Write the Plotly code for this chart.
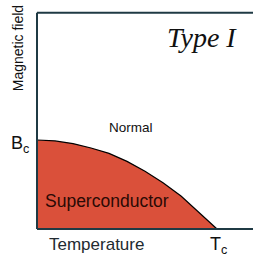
import plotly.graph_objects as go

# Boundary curve (T/Tc, B/Bc)
temperature = [0.0, 0.1, 0.2, 0.3, 0.4, 0.5, 0.6, 0.7, 0.8, 0.9, 1.0]
critical_field = [1.0, 0.99, 0.96, 0.91, 0.85, 0.76, 0.65, 0.52, 0.37, 0.19, 0.0]

x_max = 1.2
y_top = 2.43

fig = go.Figure()
fig.add_trace(go.Scatter(
    x=temperature, y=critical_field, mode="lines",
    fill="tozeroy", fillcolor="rgb(218,80,58)",
    line=dict(color="black", width=1.2), hoverinfo="skip"))

axis_col = "#1f3a44"
fig.add_shape(type="line", x0=0, x1=0, y0=0, y1=y_top, line=dict(color=axis_col, width=2))
fig.add_shape(type="line", x0=0, x1=x_max, y0=y_top, y1=y_top, line=dict(color=axis_col, width=2))
fig.add_shape(type="line", x0=0, x1=x_max, y0=0, y1=0, line=dict(color=axis_col, width=2))

sans = "Liberation Sans, Arial"
ann = [
    dict(x=-0.106, y=2.03, text="Magnetic field", textangle=-90, font=dict(family=sans, size=14, color="#111")),
    dict(x=0.915, y=2.15, text="<i>Type I</i>", font=dict(family="Liberation Serif, Times New Roman", size=28, color="#111")),
    dict(x=0.522, y=1.146, text="Normal", font=dict(family=sans, size=13.5, color="#111")),
    dict(x=0.389, y=0.315, text="Superconductor", font=dict(family=sans, size=17.5, color="#2a0a05")),
    dict(x=0.333, y=-0.169, text="Temperature", font=dict(family=sans, size=17, color="#222a30")),
    dict(x=-0.094, y=0.95, text="B<sub>c</sub>", font=dict(family=sans, size=18, color="#111")),
    dict(x=1.01, y=-0.19, text="T<sub>c</sub>", font=dict(family=sans, size=18, color="#111")),
]
for a in ann:
    a.update(xref="x", yref="y", showarrow=False)
    fig.add_annotation(**a)

fig.update_layout(
    width=253, height=259, margin=dict(l=0, r=0, t=0, b=0),
    paper_bgcolor="white", plot_bgcolor="white", showlegend=False,
    xaxis=dict(range=[-37/180, 216/180], visible=False, fixedrange=True),
    yaxis=dict(range=[-30/89, 229/89], visible=False, fixedrange=True),
)
fig.write_html("out.html", config={"displayModeBar": False},
               post_script="document.body.style.margin='0';document.body.style.overflow='hidden';")
